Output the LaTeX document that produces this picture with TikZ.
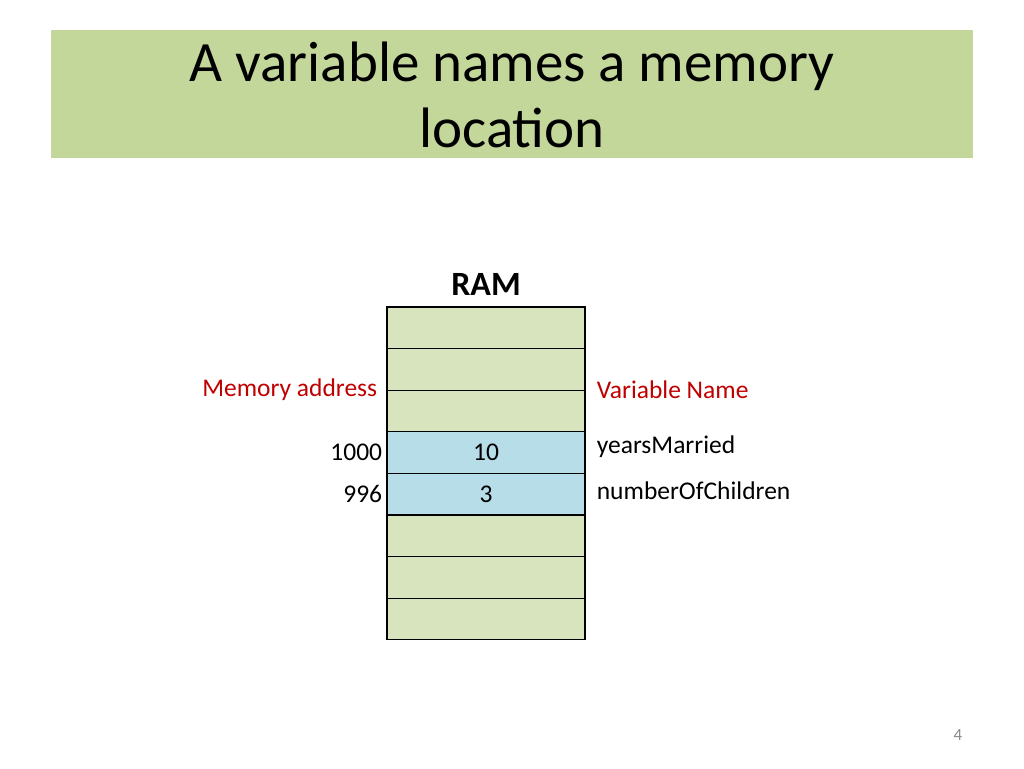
\documentclass[tikz,border=0pt]{standalone}
\usepackage{fontspec}
\setmainfont{Carlito}
\usepackage{tikz}
\usetikzlibrary{positioning}
\definecolor{titlegreen}{RGB}{196,215,155}
\definecolor{cellgreen}{RGB}{215,228,189}
\definecolor{cellblue}{RGB}{183,221,232}
\definecolor{labelred}{RGB}{192,0,0}
\definecolor{pagegray}{RGB}{137,137,137}
\tikzset{
  cell/.style={draw=black,line width=1.3pt,minimum width=198pt,minimum height=41.6pt,inner sep=0pt,font=\fontsize{25.5}{30}\selectfont},
  label/.style={inner sep=0pt,font=\fontsize{25.5}{30}\selectfont}
}
\begin{document}
\begin{tikzpicture}[x=1pt,y=-1pt]
\useasboundingbox (0,0) rectangle (1024,768);
\fill [white] (0,0) rectangle (1024,768);
\fill [titlegreen] (51,30) rectangle (973,158);
\node (title) [anchor=north,align=center,inner sep=0pt,font=\fontsize{57}{66}\selectfont] at (512,42) {A variable names a memory\\location};
\node (ram) [anchor=base,inner sep=0pt,font=\fontsize{34}{40}\selectfont\bfseries] at (486,295) {RAM};
\foreach \i/\c/\v in {1/cellgreen/,2/cellgreen/,3/cellgreen/,4/cellblue/10,5/cellblue/3,6/cellgreen/,7/cellgreen/,8/cellgreen/}
  \node (cell\i) [cell,fill=\c] at (486,{307+41.6*(\i-0.5)}) {\v};
\node (addr) [label,text=labelred,anchor=east] at ([xshift=-9pt]cell3.north west) {Memory address};
\node (vname) [label,text=labelred,anchor=west] at ([xshift=11pt]cell3.north east) {Variable Name};
\node (a1000) [label,anchor=east] at ([xshift=-4pt]cell4.west) {1000};
\node (a996) [label,anchor=east] at ([xshift=-4pt]cell5.west) {996};
\node (years) [label,anchor=west] at ([xshift=11pt,yshift=6pt]cell4.east) {yearsMarried};
\node (kids) [label,anchor=west] at ([xshift=11pt,yshift=3pt]cell5.east) {numberOfChildren};
\node (page) [inner sep=0pt,text=pagegray,font=\fontsize{17}{20}\selectfont] at (958,735) {4};
\end{tikzpicture}
\end{document}
